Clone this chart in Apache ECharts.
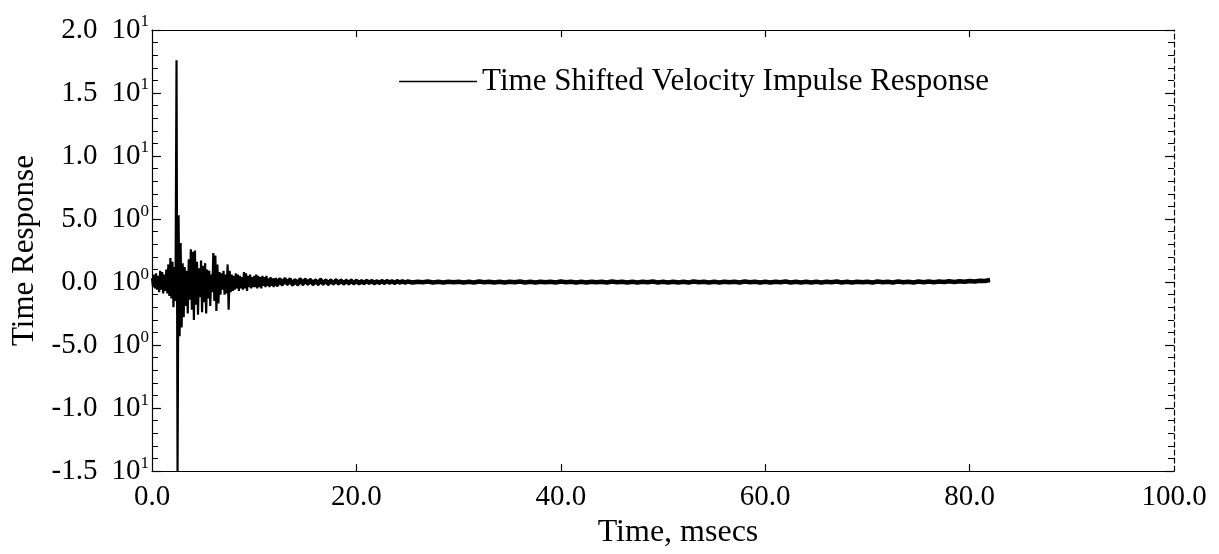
<!DOCTYPE html>
<html>
<head>
<meta charset="utf-8">
<script src="https://cdn.jsdelivr.net/npm/echarts@6/dist/echarts.min.js"></script>
<style>
html,body{margin:0;padding:0;background:#fff;}
#chart{width:1219px;height:554px;}
</style>
</head>
<body>
<div id="chart"></div>
<script>
// ---- data ----
const seriesName = 'Time Shifted Velocity Impulse Response';
// segment A: 0.0 .. 12.0 ms, sample step 0.1 ms
const segAStart = 0.0, segAStep = 0.1;
const segAValues = [
 0.3,-0.4,0.6,-0.5,0.7,-0.6,0.5,-0.8,0.9,-0.6,
 0.8,-0.9,0.6,-0.7,1.0,-0.9,1.4,-1.1,1.9,-1.3,
 1.6,-2.0,1.2,-1.5,17.6,-15.0,5.3,-4.3,3.1,-3.6,
 1.5,-2.8,1.2,-1.9,0.9,-2.5,1.8,-1.4,2.6,-2.2,
 2.4,-3.0,2.5,-1.8,1.6,-2.6,1.1,-1.2,1.7,-2.4,
 1.3,-1.6,1.5,-2.5,1.0,-1.3,0.9,-1.9,0.6,-0.8,
 2.3,-1.5,2.1,-2.3,1.4,-1.7,0.8,-1.0,0.7,-0.6,
 0.9,-1.0,0.6,-0.9,1.4,-2.2,0.9,-0.8,0.6,-0.7,
 0.5,-0.6,0.7,-0.5,0.6,-0.7,0.5,-0.5,0.4,-0.6,
 0.8,-0.5,0.7,-0.7,0.5,-0.4,0.6,-0.5,0.4,-0.4,
 0.5,-0.4,0.6,-0.5,0.5,-0.4,0.4,-0.5,0.5,-0.3,
 0.4,-0.4,0.5,-0.3,0.3,-0.4,0.4,-0.3,0.3,-0.4,
 0.3
];
// segment B: 12.25 .. 25.0 ms, sample step 0.25 ms
const segBStart = 12.25, segBStep = 0.25;
const segBValues = [
 -0.2,0.18,-0.15,0.2,-0.12,0.18,-0.16,0.12,-0.15,0.18,
 -0.12,0.15,-0.1,0.14,-0.13,0.1,-0.12,0.16,-0.1,0.1,
 -0.12,0.1,-0.09,0.12,-0.08,0.1,-0.09,0.07,-0.08,0.09,
 -0.07,0.08,-0.08,0.06,-0.07,0.08,-0.05,0.07,-0.07,0.05,
 -0.05,0.06,-0.05,0.07,-0.04,0.05,-0.05,0.06,-0.04,0.05,
 -0.04,0.04
];
// segment C: 25.5 .. 82.0 ms, sample step 0.5 ms
const segCStart = 25.5, segCStep = 0.5;
const segCValues = [
 -0.04,0.03,-0.02,0.04,-0.03,0.02,-0.04,0.03,-0.02,0.03,
 -0.03,0.02,-0.03,0.04,-0.02,0.03,-0.04,0.02,-0.03,0.03,
 -0.02,0.04,-0.03,0.02,-0.04,0.03,-0.02,0.03,-0.03,0.04,
 -0.02,0.03,-0.03,0.02,-0.04,0.03,-0.02,0.03,-0.03,0.04,
 -0.02,0.03,-0.04,0.02,-0.03,0.03,-0.02,0.04,-0.03,0.02,
 -0.03,0.03,-0.04,0.02,-0.03,0.04,-0.02,0.03,-0.03,0.02,
 -0.04,0.03,-0.02,0.03,-0.03,0.04,-0.02,0.03,-0.03,0.02,
 -0.04,0.03,-0.02,0.04,-0.03,0.02,-0.03,0.03,-0.04,0.02,
 -0.03,0.03,-0.02,0.04,-0.03,0.02,-0.04,0.03,-0.02,0.03,
 -0.03,0.04,-0.02,0.03,-0.03,0.04,-0.02,0.03,-0.03,0.04,
 -0.02,0.04,-0.01,0.05,0.0,0.06,0.01,0.07,0.02,0.09,
 0.04,0.11,0.08,0.16
];
// axis ticks
const xTickValues = [0, 20, 40, 60, 80, 100];
const xTickLabels = ['0.0', '20.0', '40.0', '60.0', '80.0', '100.0'];
const yTickValues = [-15, -10, -5, 0, 5, 10, 15, 20];
const yTickMantissa = ['-1.5', '-1.0', '-5.0', '0.0', '5.0', '1.0', '1.5', '2.0'];
const yTickExponent = ['1', '1', '0', '0', '0', '1', '1', '1'];
const xAxisTitle = 'Time, msecs';
const yAxisTitle = 'Time Response';

// ---- build the series ----
function segment(start, step, vals) {
  return vals.map((v, i) => [+(start + i * step).toFixed(3), v]);
}
const headPoints = segment(segAStart, segAStep, segAValues);
const tailPoints = [headPoints[headPoints.length - 1]]
  .concat(segment(segBStart, segBStep, segBValues))
  .concat(segment(segCStart, segCStep, segCValues));

const FONT = '"Liberation Serif", "Times New Roman", serif';
const TICK_FS = 29;

const chart = echarts.init(document.getElementById('chart'), null, {renderer: 'canvas'});
chart.setOption({
  animation: false,
  backgroundColor: '#ffffff',
  grid: {left: 152, right: 45, top: 30, bottom: 76, containLabel: false},
  legend: {
    data: [seriesName],
    right: 225,
    top: 61,
    icon: 'rect',
    itemWidth: 78,
    itemHeight: 1.5,
    itemGap: 14,
    textStyle: {fontFamily: FONT, fontSize: 31, color: '#000'},
    itemStyle: {color: '#000'}
  },
  xAxis: [{
    type: 'value', min: 0, max: 100, interval: 20, position: 'bottom',
    name: xAxisTitle, nameLocation: 'middle', nameGap: 54,
    nameTextStyle: {fontFamily: FONT, fontSize: 32, color: '#000', verticalAlign: 'middle', padding: [0, 0, 0, 30]},
    axisLine: {show: true, onZero: false, lineStyle: {color: '#000', width: 1.2}},
    axisTick: {show: true, inside: true, length: 7, lineStyle: {color: '#000', width: 1.2},
      customValues: xTickValues.slice(1, -1)},
    axisLabel: {
      margin: 12, fontFamily: FONT, fontSize: TICK_FS, color: '#000',
      formatter: function (v) { const k = xTickValues.indexOf(v); return k >= 0 ? xTickLabels[k] : ''; }
    },
    splitLine: {show: false}
  }, {
    type: 'value', min: 0, max: 100, interval: 20, position: 'top',
    axisLine: {show: true, onZero: false, lineStyle: {color: '#000', width: 1.2}},
    axisTick: {show: true, inside: true, length: 7, lineStyle: {color: '#000', width: 1.2},
      customValues: xTickValues.slice(1, -1)},
    axisLabel: {show: false},
    splitLine: {show: false}
  }],
  yAxis: [{
    type: 'value', min: -15, max: 20, interval: 5, position: 'left',
    name: yAxisTitle, nameLocation: 'middle', nameGap: 127, nameRotate: 90,
    nameTextStyle: {fontFamily: FONT, fontSize: 31, color: '#000', verticalAlign: 'middle'},
    axisLine: {show: true, onZero: false, lineStyle: {color: '#000', width: 1.2}},
    axisTick: {show: true, inside: true, length: 9, lineStyle: {color: '#000', width: 1.2}},
    minorTick: {show: true, splitNumber: 5, length: 6, lineStyle: {color: '#000', width: 1}},
    axisLabel: {
      margin: 3, fontFamily: FONT, fontSize: TICK_FS, color: '#000',
      formatter: function (v) {
        const k = yTickValues.indexOf(v);
        if (k < 0) return '';
        return '{m|' + yTickMantissa[k] + '}{b|10}{e|' + yTickExponent[k] + '}';
      },
      rich: {
        m: {fontFamily: FONT, fontSize: TICK_FS, color: '#000', padding: [0, 14, 0, 0]},
        b: {fontFamily: FONT, fontSize: TICK_FS, color: '#000'},
        e: {fontFamily: FONT, fontSize: 17, color: '#000', padding: [0, 0, 16, 0]}
      }
    },
    splitLine: {show: false}
  }, {
    type: 'value', min: -15, max: 20, interval: 5, position: 'right',
    axisLine: {show: true, onZero: false, lineStyle: {color: '#000', width: 1.2, type: [5, 3]}},
    axisTick: {show: true, inside: true, length: 9, lineStyle: {color: '#000', width: 1.2}},
    minorTick: {show: true, splitNumber: 5, length: 6, lineStyle: {color: '#000', width: 1}},
    axisLabel: {show: false},
    splitLine: {show: false}
  }],
  series: [{
    name: seriesName,
    type: 'line',
    xAxisIndex: 0, yAxisIndex: 0,
    data: headPoints,
    showSymbol: false,
    symbol: 'none',
    sampling: null,
    lineStyle: {color: '#000', width: 2.2},
    itemStyle: {color: '#000'}
  }, {
    name: seriesName,
    type: 'line',
    xAxisIndex: 0, yAxisIndex: 0,
    data: tailPoints,
    showSymbol: false,
    symbol: 'none',
    sampling: null,
    lineStyle: {color: '#000', width: 4.5, join: 'round'},
    itemStyle: {color: '#000'}
  }]
});
</script>
</body>
</html>
